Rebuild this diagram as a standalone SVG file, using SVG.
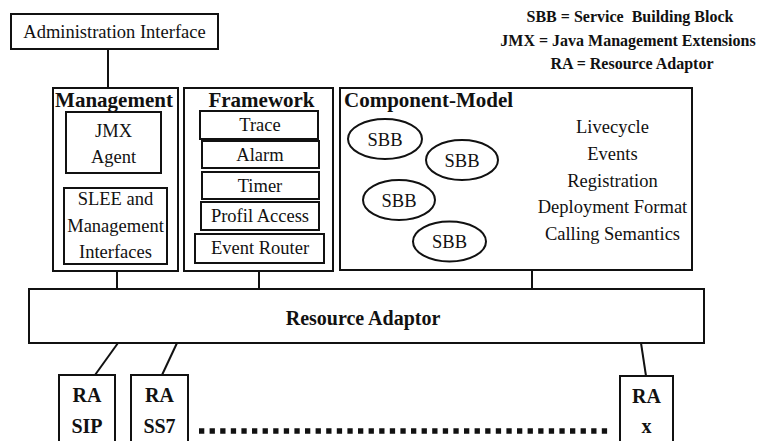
<svg xmlns="http://www.w3.org/2000/svg" width="759" height="441" viewBox="0 0 759 441">
<style>
.b{fill:#fff;stroke:#111;stroke-width:2}
.t{font-family:"Liberation Serif","Times New Roman",serif;font-size:18.5px;fill:#111;text-anchor:middle}
.h{font-family:"Liberation Serif","Times New Roman",serif;font-size:21px;font-weight:bold;fill:#111}
.l{font-family:"Liberation Serif","Times New Roman",serif;font-size:16px;font-weight:bold;fill:#111;text-anchor:middle}
.ra{font-family:"Liberation Serif","Times New Roman",serif;font-size:20px;font-weight:bold;fill:#111;text-anchor:middle}
.c{stroke:#111;stroke-width:2;fill:none}
</style>
<rect width="759" height="441" fill="#fff"/>
<g id="legend">
<text class="l" x="630" y="22" xml:space="preserve">SBB = Service  Building Block</text>
<text class="l" x="628" y="46">JMX = Java Management Extensions</text>
<text class="l" x="632" y="69">RA = Resource Adaptor</text>
</g>
<g id="connectors">
<line class="c" x1="108" y1="49" x2="108" y2="88"/>
<line class="c" x1="117" y1="271" x2="117" y2="289"/>
<line class="c" x1="259" y1="271" x2="259" y2="289"/>
<line class="c" x1="532" y1="270" x2="532" y2="289"/>
<line class="c" x1="118" y1="343" x2="95" y2="375"/>
<line class="c" x1="177" y1="343" x2="162" y2="375"/>
<line class="c" x1="641" y1="343" x2="646" y2="376"/>
<line x1="199" y1="431" x2="609" y2="431" stroke="#111" stroke-width="5.5" stroke-dasharray="5.3 5.3"/>
</g>
<g id="admin">
<rect class="b" x="11" y="14" width="207" height="35"/>
<text class="t" x="114.5" y="38">Administration Interface</text>
</g>
<g id="management">
<rect class="b" x="53" y="88" width="125" height="183"/>
<text class="h" x="114" y="107" text-anchor="middle">Management</text>
<g id="jmx">
<rect class="b" x="66" y="112" width="95" height="61"/>
<text class="t" x="113.5" y="137">JMX</text>
<text class="t" x="113.5" y="163">Agent</text>
</g>
<g id="slee">
<rect class="b" x="64" y="188" width="103" height="76"/>
<text class="t" x="115.5" y="205">SLEE and</text>
<text class="t" x="115.5" y="232">Management</text>
<text class="t" x="115.5" y="258">Interfaces</text>
</g>
</g>
<g id="framework">
<rect class="b" x="184" y="88" width="149" height="183"/>
<text class="h" x="261.5" y="107" text-anchor="middle">Framework</text>
<g id="trace"><rect class="b" x="200" y="111" width="118" height="28"/><text class="t" x="260" y="131">Trace</text></g>
<g id="alarm"><rect class="b" x="202" y="141" width="117" height="27"/><text class="t" x="260" y="161">Alarm</text></g>
<g id="timer"><rect class="b" x="202" y="172" width="117" height="27"/><text class="t" x="260" y="192">Timer</text></g>
<g id="profil"><rect class="b" x="201" y="202" width="118" height="28"/><text class="t" x="260" y="222">Profil Access</text></g>
<g id="router"><rect class="b" x="195" y="234" width="129" height="29"/><text class="t" x="260" y="254">Event Router</text></g>
</g>
<g id="component-model">
<rect class="b" x="340" y="88" width="352" height="182"/>
<text class="h" x="344" y="107">Component-Model</text>
<g id="sbb1"><ellipse class="b" cx="385" cy="139" rx="37" ry="20"/><text class="t" x="385" y="146">SBB</text></g>
<g id="sbb2"><ellipse class="b" cx="462" cy="160" rx="36" ry="20"/><text class="t" x="462" y="167">SBB</text></g>
<g id="sbb3"><ellipse class="b" cx="399" cy="200" rx="36" ry="20"/><text class="t" x="399" y="207">SBB</text></g>
<g id="sbb4"><ellipse class="b" cx="449.5" cy="241.5" rx="36.5" ry="20"/><text class="t" x="449.5" y="248">SBB</text></g>
<text class="t" x="612.5" y="133">Livecycle</text>
<text class="t" x="612.5" y="160">Events</text>
<text class="t" x="612.5" y="187">Registration</text>
<text class="t" x="612.5" y="213">Deployment Format</text>
<text class="t" x="612.5" y="240">Calling Semantics</text>
</g>
<g id="resource-adaptor">
<rect class="b" x="29" y="289" width="675" height="54"/>
<text class="ra" x="363" y="325" font-size="21">Resource Adaptor</text>
</g>
<g id="ra-sip">
<rect class="b" x="59" y="375" width="56" height="80"/>
<text class="ra" x="87" y="402">RA</text>
<text class="ra" x="87" y="433">SIP</text>
</g>
<g id="ra-ss7">
<rect class="b" x="131" y="375" width="57" height="80"/>
<text class="ra" x="159.5" y="402">RA</text>
<text class="ra" x="159.5" y="433">SS7</text>
</g>
<g id="ra-x">
<rect class="b" x="620" y="376" width="53" height="80"/>
<text class="ra" x="646.5" y="403">RA</text>
<text class="ra" x="646.5" y="433">x</text>
</g>
</svg>
